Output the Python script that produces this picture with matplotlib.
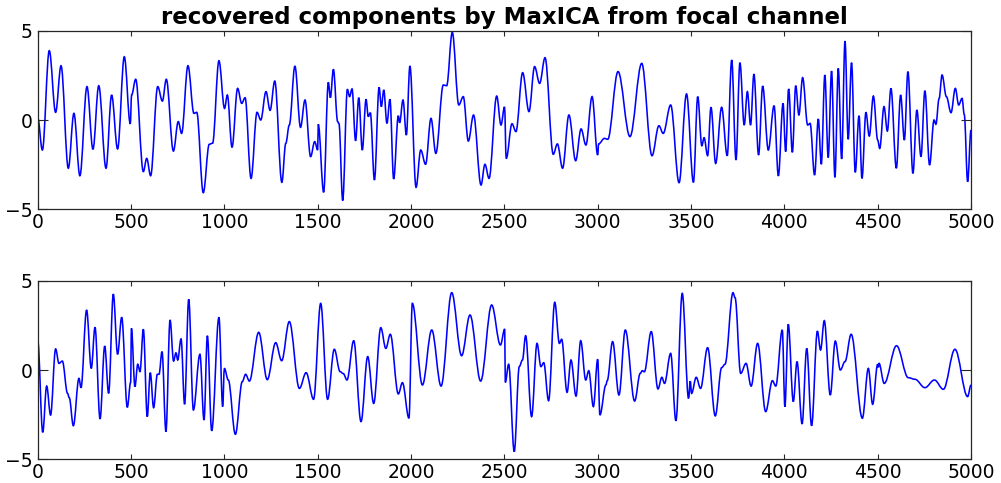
import matplotlib
matplotlib.use("Agg")
import matplotlib.pyplot as plt
from matplotlib.path import Path
from matplotlib.patches import PathPatch

title = "recovered components by MaxICA from focal channel"
xticks = [0, 500, 1000, 1500, 2000, 2500, 3000, 3500, 4000, 4500, 5000]
yticks = [-5, 0, 5]

# component 1 (sample index, amplitude) read at turning points
t1 = [0, 25, 62, 96, 125, 164, 194, 226, 264, 296, 327, 366, 396, 428, 464, 496, 503, 525,
      566, 584, 605, 643, 668, 689, 727, 753, 771, 805, 837, 852, 887, 919, 937, 971, 1001,
      1016, 1041, 1071, 1093, 1111, 1143, 1175, 1195, 1223, 1245, 1270, 1308, 1329, 1348,
      1378, 1408, 1432, 1462, 1484, 1500, 1503, 1532, 1557, 1568, 1584, 1607, 1614, 1634,
      1659, 1671, 1684, 1703, 1720, 1739, 1759, 1771, 1782, 1804, 1829, 1841, 1854, 1871,
      1887, 1907, 1932, 1939, 1957, 1975, 1994, 2027, 2052, 2078, 2107, 2133, 2173, 2191,
      2221, 2256, 2280, 2307, 2335, 2375, 2396, 2418, 2459, 2482, 2501, 2510, 2541, 2562,
      2598, 2632, 2662, 2689, 2718, 2762, 2784, 2812, 2846, 2882, 2911, 2937, 2970, 3000,
      3005, 3036, 3054, 3109, 3173, 3236, 3291, 3328, 3351, 3391, 3436, 3476, 3513, 3536,
      3558, 3570, 3589, 3607, 3632, 3664, 3694, 3718, 3741, 3762, 3785, 3802, 3819, 3837,
      3862, 3884, 3914, 3945, 3968, 3993, 4007, 4023, 4043, 4061, 4078, 4098, 4125, 4138,
      4162, 4182, 4198, 4217, 4235, 4253, 4271, 4289, 4307, 4325, 4342, 4360, 4380, 4400,
      4416, 4437, 4455, 4477, 4500, 4511, 4534, 4552, 4571, 4600, 4623, 4643, 4662, 4689,
      4710, 4732, 4753, 4778, 4802, 4812, 4829, 4845, 4868, 4893, 4916, 4934, 4952, 4964,
      4982, 5000]
v1 = [0.13, -1.68, 3.88, 0.43, 3.04, -2.7, 0.37, -3.12, 1.87, -1.64, 1.92, -2.7, 1.4, -1.62,
      3.54, -0.22, 1.4, 2.28, -2.89, -2.15, -3.12, 1.87, 1.06, 2.28, -1.74, -0.09, -0.75,
      3.04, 0.37, 0.43, -4.07, -1.36, -1.3, 3.32, 0.65, 1.4, -1.53, 1.77, 0.93, 1.25, -3.27,
      0.43, 0.0, 1.59, 0.54, 2.18, -3.49, -1.31, -0.28, 3.02, -0.41, 1.12, -2.05, -1.21,
      -1.68, -0.24, -4.05, 2.11, 1.25, 2.84, -0.09, -0.2, -4.51, 1.72, 1.31, 1.74, -1.16,
      1.25, -1.68, 1.16, 0.19, 0.41, -3.36, 1.83, 0.75, 1.68, -0.19, 1.16, -3.3, 0.24,
      -0.15, 1.12, -0.84, 3.02, -3.77, -1.68, -2.48, 0.09, -1.87, 1.96, 1.92, 4.91, 0.84,
      1.31, -1.18, 0.28, -3.64, -2.48, -3.27, 1.34, -0.28, 0.73, -2.16, -0.21, -0.65, 2.65,
      0.47, 2.99, 2.05, 3.49, -1.92, -1.34, -2.7, 0.28, -2.28, -0.5, -1.4, 1.31, -1.96,
      -1.34, -1.03, -1.08, 2.71, -0.93, 3.17, -2.0, -0.32, -0.75, 0.84, -3.51, 1.46, -3.49,
      1.31, -1.44, -0.99, -2.0, 0.71, -2.43, 0.71, -2.0, 3.36, -2.24, 3.21, -0.28, 1.59,
      -0.28, 2.57, -1.96, 1.9, -1.68, 0.8, -3.13, 0.93, -1.77, 1.74, -1.81, 1.92, 0.28,
      2.37, -0.28, -0.19, -3.08, 0.06, -2.48, 2.52, -2.1, 2.74, -3.21, 2.89, -2.18, 4.42,
      -1.08, 3.21, -2.93, 0.24, -3.27, 0.43, -0.9, 1.34, -1.12, -1.59, 0.75, -0.62, 1.77,
      -2.7, 1.4, -1.12, 2.71, -2.99, 0.56, -2.05, 1.64, -2.52, 0.0, -0.24, 1.2, 2.52, 1.31,
      0.41, 1.77, 0.84, 1.21, 0.3, -3.45, -0.56]

# component 2
t2 = [0, 27, 48, 69, 96, 114, 132, 160, 169, 191, 221, 232, 262, 287, 307, 334, 359, 380,
      405, 428, 450, 480, 498, 502, 521, 536, 548, 566, 587, 603, 621, 641, 650, 666, 687,
      709, 728, 741, 750, 768, 787, 809, 834, 869, 891, 909, 932, 971, 991, 1000, 1021,
      1059, 1096, 1114, 1134, 1184, 1230, 1275, 1307, 1348, 1402, 1438, 1478, 1516, 1553,
      1589, 1620, 1637, 1657, 1693, 1732, 1768, 1800, 1838, 1865, 1889, 1932, 1954, 1989,
      2007, 2061, 2111, 2161, 2218, 2271, 2316, 2373, 2432, 2479, 2502, 2505, 2523, 2553,
      2580, 2597, 2614, 2646, 2675, 2696, 2711, 2737, 2770, 2795, 2807, 2836, 2857, 2884,
      2909, 2936, 2952, 2977, 3000, 3012, 3044, 3051, 3080, 3114, 3148, 3198, 3228, 3239,
      3250, 3287, 3323, 3344, 3358, 3391, 3419, 3453, 3487, 3496, 3503, 3528, 3551, 3589,
      3630, 3664, 3682, 3725, 3736, 3766, 3795, 3822, 3857, 3900, 3936, 3954, 3989, 4003,
      4021, 4048, 4068, 4095, 4120, 4146, 4177, 4194, 4214, 4246, 4273, 4300, 4325, 4358,
      4418, 4450, 4473, 4500, 4504, 4507, 4535, 4601, 4664, 4700, 4753, 4804, 4852, 4914,
      4982, 5000]
v2 = [1.68, -3.49, -0.9, -2.52, 1.18, 0.37, 0.5, -1.31, -1.55, -3.12, -0.47, -0.99, 3.36,
      0.09, 2.39, -2.74, 1.34, -1.31, 4.25, 0.88, 2.95, -2.09, -0.69, 2.33, -0.93, 0.32,
      -0.09, 2.28, -2.61, -0.15, -2.11, -0.24, -0.24, 1.03, -3.45, 2.8, 0.5, 0.97, 0.56,
      1.74, -1.92, 3.96, -2.24, 0.88, -2.8, 1.92, -3.4, 2.95, -2.05, 0.09, -0.56, -3.6,
      -0.65, -0.24, -0.62, 2.11, -0.54, 1.53, 0.52, 2.71, -1.03, -0.15, -1.64, 3.73, -1.64,
      1.16, -0.09, -0.2, -0.56, 1.64, -2.89, 0.75, -1.87, 2.37, 1.21, 2.0, -1.34, -0.71,
      -2.7, 3.73, -0.84, 2.24, -0.9, 4.33, 0.8, 3.08, -0.62, 3.64, 1.4, 2.29, -0.69, 0.32,
      -4.57, 0.19, 0.56, 1.92, -2.61, 1.49, 0.19, 0.41, -1.72, 3.79, 1.49, 1.72, -1.25,
      0.56, -1.46, 1.64, -0.56, -0.04, -2.05, 0.6, -2.52, -0.84, -0.6, 1.59, -1.4, 2.24,
      -1.74, -0.19, -0.04, -0.1, 2.15, -1.06, -0.41, -0.75, 0.93, -2.84, 4.29, -1.59,
      -0.62, -1.31, -0.41, -1.03, 1.25, -2.57, 0.13, 0.32, 4.33, 4.05, -0.19, 0.37, -0.9,
      1.49, -2.33, -0.6, -0.9, 2.24, -2.05, 2.56, -1.77, 0.47, -3.02, 1.21, -3.12, 2.18,
      1.12, 2.76, -1.4, 1.62, 0.0, 0.47, 2.0, -2.7, 0.09, -1.92, 0.32, 0.15, 0.38, -0.75,
      1.36, -0.43, -0.52, -0.99, -0.56, -1.08, 1.16, -1.49, -0.84]


def smooth_path(t, v):
    """Path through the turning points, drawn as cubic segments with flat tangents."""
    verts = [(t[0], v[0])]
    codes = [Path.MOVETO]
    for i in range(1, len(t)):
        d = (t[i] - t[i - 1]) * 0.36
        verts += [(t[i - 1] + d, v[i - 1]), (t[i] - d, v[i]), (t[i], v[i])]
        codes += [Path.CURVE4] * 3
    return Path(verts, codes)


W, H = 1001, 483
fig = plt.figure(figsize=(W / 100, H / 100), dpi=100)
plt.rcParams['font.family'] = ['DejaVu Sans']

ax_boxes = [
    [37.7 / W, 1 - 209.3 / H, (971 - 37.7) / W, (209.3 - 30.7) / H],
    [37.7 / W, 1 - 459.3 / H, (971 - 37.7) / W, (459.3 - 280.7) / H],
]
series = [(t1, v1), (t2, v2)]
for box, (t, v) in zip(ax_boxes, series):
    ax = fig.add_axes(box)
    patch = PathPatch(smooth_path(t, v), fill=False, edgecolor='#0000FF', lw=1.15,
                      transform=ax.transData, clip_on=True)
    ax.add_patch(patch)
    ax.set_xlim(0, 5000)
    ax.set_ylim(-5, 5)
    ax.set_xticks(xticks)
    ax.set_yticks(yticks)
    for s in ax.spines.values():
        s.set_color('#262626')
        s.set_linewidth(0.9)
    ax.tick_params(axis='both', direction='in', top=True, right=True,
                   colors='#262626', labelcolor='black', labelsize=13.5, width=0.8)
    ax.tick_params(axis='x', length=3.8, pad=3)
    ax.tick_params(axis='y', length=7.2, pad=4)

fig.text((37.7 + 971) / 2 / W, 1 - 24 / H, title, ha='center', va='baseline',
         fontsize=16.5, fontweight='bold')

fig.savefig('out.png', dpi=100)
